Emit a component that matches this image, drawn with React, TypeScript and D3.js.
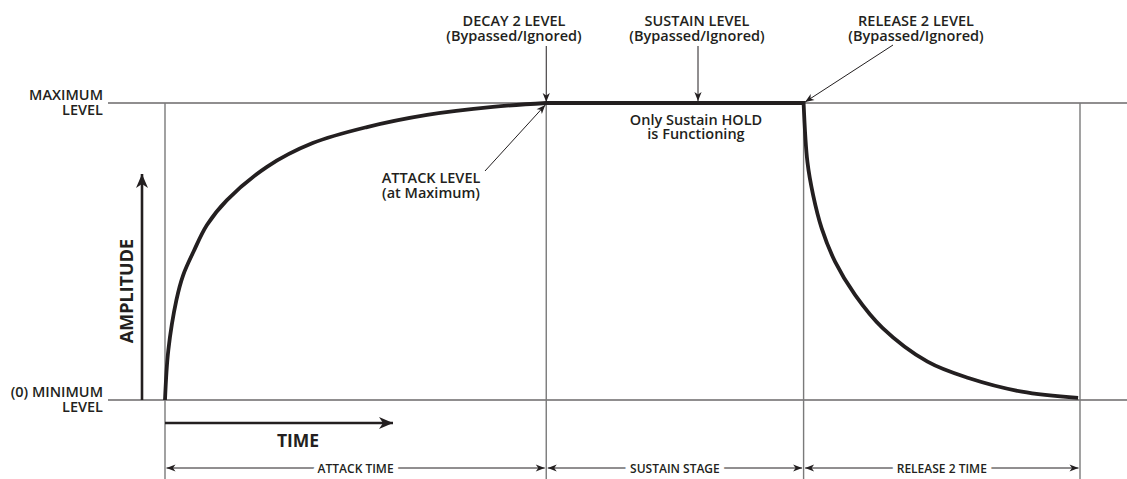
import React from "react";
import * as d3 from "d3";

// ---- data (normalised time units, amplitude 0..1) ----
const stageBounds = [0, 4.0, 6.7, 9.6];
const stageNames = ["ATTACK TIME", "SUSTAIN STAGE", "RELEASE 2 TIME"];
const attackT = [0, 0.035, 0.12, 0.19, 0.3, 0.44, 0.65, 1.07, 1.55, 2.12, 2.75, 3.44, 4.0];
const attackA = [0, 0.168, 0.337, 0.42, 0.5, 0.589, 0.673, 0.785, 0.865, 0.919, 0.96, 0.987, 1.0];
const sustainT = [4.0, 6.7];
const sustainA = [1.0, 1.0];
const releaseT = [6.7, 6.74, 6.8, 6.89, 7.03, 7.24, 7.53, 8.0, 8.43, 8.99, 9.58];
const releaseA = [1.0, 0.802, 0.69, 0.578, 0.466, 0.354, 0.242, 0.129, 0.074, 0.028, 0.007];
const levelLabels = [
  { v: 1, lines: ["MAXIMUM", "LEVEL"] },
  { v: 0, lines: ["(0) MINIMUM", "LEVEL"] },
];

const W = 1127;
const H = 479;
const INK = "#231f20";
const GRAY = "#7a7a7a";
const FONT = "'Open Sans', 'DejaVu Sans', sans-serif";

function TwoLine({ x, y, lines, size, gap, anchor = "middle" }: { x: number; y: number; lines: string[]; size: number; gap: number; anchor?: string }) {
  return (
    <g>
      {lines.map((s, i) => (
        <text key={i} x={x} y={y + i * gap} textAnchor={anchor as any} fontSize={size} style={{ fontFamily: FONT, fontWeight: 600, fill: INK }}>
          {s}
        </text>
      ))}
    </g>
  );
}

export default function App() {
  const x = d3.scaleLinear().domain([0, 9.6]).range([165, 1080]);
  const y = d3.scaleLinear().domain([0, 1]).range([400, 103]);

  const line = d3
    .line<[number, number]>()
    .x((d) => x(d[0]))
    .y((d) => y(d[1]))
    .curve(d3.curveCatmullRom.alpha(0.5));

  const attackPts = attackT.map((t, i) => [t, attackA[i]] as [number, number]);
  const releasePts = releaseT.map((t, i) => [t, releaseA[i]] as [number, number]);
  const sustainPts = sustainT.map((t, i) => [t, sustainA[i]] as [number, number]);
  const fullPath = line(attackPts)! + line(sustainPts)!.replace(/^M/, "L") + line(releasePts)!.replace(/^M/, "L");

  const yMax = y(1);
  const yMin = y(0);
  const dimY = 468;

  const textStyle: React.CSSProperties = { fontFamily: FONT, fontWeight: 600, fill: INK };

  return (
    <svg
      width={W}
      height={H}
      viewBox={`0 0 ${W} ${H}`}
      style={{ position: "fixed", left: 0, top: 0, background: "#fff" }}
    >
      <defs>
        <marker id="thin" viewBox="-10 -5 12 10" refX={0} refY={0} markerWidth={12} markerHeight={10} markerUnits="userSpaceOnUse" orient="auto-start-reverse">
          <path d="M0,0 L-9,-3.6 L-6.5,0 L-9,3.6 Z" fill={INK} />
        </marker>
        <marker id="bold" viewBox="-16 -8 18 16" refX={0} refY={0} markerWidth={18} markerHeight={16} markerUnits="userSpaceOnUse" orient="auto">
          <path d="M0,0 L-14,-6 L-10,0 L-14,6 Z" fill={INK} />
        </marker>
      </defs>

      {/* level lines */}
      <line x1={108} x2={W} y1={yMax} y2={yMax} stroke={INK} strokeWidth={1.2} />
      <line x1={108} x2={W} y1={yMin} y2={yMin} stroke={INK} strokeWidth={1.2} />

      {/* stage boundaries */}
      {stageBounds.map((t, i) => (
        <line key={i} x1={x(t)} x2={x(t)} y1={yMax} y2={H} stroke={GRAY} strokeWidth={1.4} />
      ))}

      {/* level labels */}
      {levelLabels.map((l, i) => (
        <TwoLine key={i} x={103} y={y(l.v) - 3} lines={l.lines} size={14.5} gap={15} anchor="end" />
      ))}

      {/* amplitude arrow */}
      <line x1={142} x2={142} y1={yMin} y2={174} stroke={INK} strokeWidth={2.6} markerEnd="url(#bold)" />
      <text transform={`translate(133,291) rotate(-90)`} textAnchor="middle" fontSize={18} style={{ ...textStyle, fontWeight: 700 }}>
        AMPLITUDE
      </text>

      {/* time arrow */}
      <line x1={x(0)} x2={393} y1={423} y2={423} stroke={INK} strokeWidth={2.6} markerEnd="url(#bold)" />
      <text x={298} y={447} textAnchor="middle" fontSize={17.5} style={{ ...textStyle, fontWeight: 700 }}>
        TIME
      </text>

      {/* envelope */}
      <path d={fullPath} fill="none" stroke={INK} strokeWidth={3.8} strokeLinejoin="miter" />

      {/* dimension arrows */}
      {stageNames.map((name, i) => {
        const a = x(stageBounds[i]) + 1.5;
        const b = x(stageBounds[i + 1]) - 1.5;
        return (
          <g key={name}>
            <line x1={a} x2={b} y1={dimY} y2={dimY} stroke={INK} strokeWidth={1} markerStart="url(#thin)" markerEnd="url(#thin)" />
            <text
              x={(a + b) / 2}
              y={dimY + 4.5}
              textAnchor="middle"
              fontSize={12}
              stroke="#fff"
              strokeWidth={10}
              paintOrder="stroke"
              style={textStyle}
            >
              {name}
            </text>
          </g>
        );
      })}

      {/* top annotations */}
      <TwoLine x={514} y={26} lines={["DECAY 2 LEVEL", "(Bypassed/Ignored)"]} size={14.5} gap={14.5} />
      <line x1={x(4.0)} x2={x(4.0)} y1={46} y2={yMax - 1} stroke={INK} strokeWidth={1} markerEnd="url(#thin)" />

      <TwoLine x={697} y={26} lines={["SUSTAIN LEVEL", "(Bypassed/Ignored)"]} size={14.5} gap={14.5} />
      <line x1={698} x2={698} y1={46} y2={yMax - 2} stroke={INK} strokeWidth={1} markerEnd="url(#thin)" />

      <TwoLine x={916} y={26} lines={["RELEASE 2 LEVEL", "(Bypassed/Ignored)"]} size={14.5} gap={14.5} />
      <line x1={893} x2={x(6.7) + 1.5} y1={45} y2={yMax - 1} stroke={INK} strokeWidth={1} markerEnd="url(#thin)" />

      <TwoLine x={431} y={183} lines={["ATTACK LEVEL", "(at Maximum)"]} size={14.5} gap={14.5} />
      <line x1={485} x2={x(4.0) - 1} y1={171} y2={yMax + 2} stroke={INK} strokeWidth={1} markerEnd="url(#thin)" />

      <TwoLine x={696} y={125} lines={["Only Sustain HOLD", "is Functioning"]} size={14.5} gap={13.5} />
    </svg>
  );
}
